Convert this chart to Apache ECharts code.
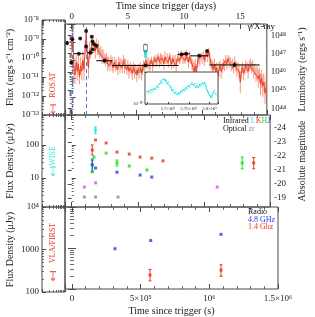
<!DOCTYPE html>
<html><head><meta charset="utf-8">
<script src="https://cdn.jsdelivr.net/npm/echarts@6/dist/echarts.min.js"></script>
<style>html,body{margin:0;padding:0;background:#fff}#c{width:315px;height:317px}</style>
</head><body><div id="c"></div>
<script>
// ---------- DATA ----------
// gamma/X-ray light curve (top panel): time in days, log10 flux, error (dex)
const rxDay = [0.0,0.1,0.2,0.3,0.4,0.5,0.6,0.7,0.8,0.9,1.0,1.1,1.2,1.3,1.4,1.5,1.6,1.7,1.8,1.9,
2.0,2.1,2.2,2.3,2.4,2.5,2.6,2.7,2.8,2.9,3.0,3.1,3.2,3.3,3.4,3.5,3.6,3.7,3.8,3.9,
4.0,4.1,4.2,4.3,4.4,4.5,4.6,4.7,4.8,4.9,5.0,5.1,5.2,5.3,5.4,5.5,5.6,5.7,5.8,5.9,
6.0,6.1,6.2,6.3,6.4,6.5,6.6,6.7,6.8,6.9,7.0,7.1,7.2,7.3,7.4,7.5,7.6,7.7,7.8,7.9,
8.0,8.1,8.2,8.3,8.4,8.5,8.6,8.7,8.8,8.9,9.0,9.1,9.2,9.3,9.4,9.5,9.6,9.7,9.8,9.9,
10.0,10.1,10.2,10.3,10.4,10.5,10.6,10.7,10.8,10.9,11.0,11.1,11.2,11.3,11.4,11.5,11.6,11.7,11.8,11.9,
12.0,12.1,12.2,12.3,12.4,12.5,12.6,12.7,12.8,12.9,13.0,13.1,13.2,13.3,13.4,13.5,13.6,13.7,13.8,13.9,
14.0,14.1,14.2,14.3,14.4,14.5,14.6,14.7,14.8,14.9,15.0,15.1,15.2,15.3,15.4,15.5,15.6,15.7,15.8,15.9,
16.0,16.1,16.2,16.3,16.4,16.5,16.6,16.7,16.8,16.9,17.0,17.1,17.2,17.3];
const rxLog = [-9.2,-8.7,-10.4,-10.8,-10.1,-10.6,-10.2,-10.9,-10.3,-10.6,
-10.0,-10.5,-9.3,-8.5,-9.8,-10.4,-9.4,-9.6,-9.0,-8.9,
-9.2,-9.5,-9.1,-9.4,-9.3,-9.6,-9.5,-9.8,-9.7,-9.9,
-10.0,-9.9,-10.2,-10.1,-10.3,-10.0,-10.2,-10.4,-10.1,-10.3,
-10.2,-10.5,-10.1,-10.3,-10.2,-10.4,-10.0,-10.3,-10.2,-10.5,
-10.3,-10.6,-10.4,-10.5,-10.7,-10.4,-10.6,-10.5,-10.8,-10.5,
-10.6,-10.4,-10.7,-10.5,-10.3,-10.4,-10.0,-10.2,-10.1,-10.3,
-10.2,-10.0,-10.3,-10.1,-9.9,-10.1,-10.0,-9.8,-10.1,-9.9,
-10.0,-9.9,-10.2,-9.8,-10.0,-9.9,-10.1,-9.8,-10.0,-10.2,
-9.9,-10.1,-10.0,-10.3,-9.9,-9.8,-10.0,-9.8,-9.7,-9.9,
-9.8,-10.0,-9.7,-9.9,-10.1,-9.8,-10.0,-10.2,-10.4,-10.6,
-10.3,-10.7,-10.1,-9.9,-10.0,-9.8,-9.9,-9.7,-10.0,-9.8,
-9.6,-9.8,-9.5,-9.9,-10.2,-10.3,-10.5,-10.2,-10.6,-10.4,
-10.9,-10.5,-10.3,-10.6,-10.4,-10.2,-10.3,-10.0,-10.2,-9.9,
-10.1,-10.0,-10.3,-10.2,-10.4,-10.1,-10.3,-10.5,-10.4,-10.6,
-11.2,-10.6,-10.4,-10.7,-10.5,-10.3,-10.4,-10.6,-10.3,-10.2,
-10.4,-10.3,-10.6,-10.5,-10.8,-10.7,-11.0,-10.8,-11.3,-11.0,
-11.4,-11.2,-11.8,-11.5];
const rxErr = [.5,.4,.6,.5,.4,.5,.6,.4,.5,.5, .5,.6,.4,.3,.5,.6,.4,.3,.3,.3,
.3,.4,.3,.3,.4,.3,.3,.4,.3,.3, .3,.3,.4,.3,.3,.3,.4,.3,.3,.3,
.3,.3,.3,.4,.3,.3,.3,.4,.3,.3, .3,.4,.3,.3,.4,.3,.4,.3,.4,.3,
.4,.3,.4,.3,.3,.3,.3,.3,.3,.3, .3,.2,.3,.3,.2,.3,.3,.2,.3,.3,
.3,.2,.3,.3,.2,.3,.3,.2,.3,.3, .2,.3,.3,.4,.2,.3,.2,.3,.2,.3,
.3,.2,.3,.2,.3,.3,.2,.3,.4,.5, .4,.5,.3,.3,.3,.2,.3,.2,.3,.3,
.2,.3,.2,.3,.3,.3,.4,.3,.4,.3, .5,.4,.3,.4,.3,.3,.3,.3,.3,.2,
.3,.2,.3,.3,.3,.3,.3,.4,.3,.4, .6,.4,.3,.4,.3,.3,.3,.4,.3,.3,
.3,.3,.4,.3,.4,.4,.5,.4,.6,.5, .6,.5,.6,.6];
// binned X-ray points (black): day, log flux, day half-width, log error
const bkDay  = [-0.40, 0.06, -0.03, 0.65, 0.76, 1.29, 1.29, 1.66, 1.79, 1.85, 2.00, 1.88, 2.22, 2.92, 6.57, 9.77, 10.19, 11.35, 12.05, 14.49];
const bkLog  = [-9.05, -8.84, -10.11, -9.63, -8.79, -8.38, -9.23, -9.58, -8.70, -8.96, -9.11, -9.40, -9.19, -10.02, -10.28, -9.67, -9.64, -9.75, -9.49, -10.25];
const bkDErr = [0.05, 0.03, 0.03, 0.45, 0.02, 0.02, 0.02, 0.28, 0.02, 0.02, 0.02, 0.02, 0.02, 0.73, 2.95, 0.35, 0.34, 0.82, 0.03, 2.25];
const bkLErr = [0.12, 0.06, 0.12, 0.04, 0.05, 0.10, 0.06, 0.04, 0.05, 0.05, 0.05, 0.05, 0.05, 0.04, 0.04, 0.05, 0.05, 0.04, 0.06, 0.04];
// other gamma-ray points at day 6.6
const cyDay = [6.57, 6.57];
const cyLog = [-9.55, -9.70];
const openDay = [6.57];
const openLog = [-9.32];
// inset (time in 1e5 s, log flux)
const insT = [5.650,5.653,5.656,5.659,5.662,5.665,5.668,5.671,5.674,5.677,5.680,5.683,5.686,5.689,5.692,5.695,5.698,5.701,5.704,5.707,
5.710,5.713,5.716,5.719,5.722,5.725,5.728,5.731,5.734,5.737,5.740,5.743,5.746,5.749,5.752,5.755,5.758,5.761,5.764,5.767,
5.770,5.773,5.776,5.779,5.782,5.785,5.788,5.791,5.794,5.797,5.800,5.803,5.806,5.809,5.812,5.815];
const insLog = [-9.62,-9.66,-9.58,-9.63,-9.55,-9.60,-9.52,-9.55,-9.45,-9.48,-9.38,-9.30,-9.35,-9.22,-9.28,-9.25,-9.36,-9.32,-9.42,-9.48,
-9.58,-9.55,-9.66,-9.62,-9.70,-9.64,-9.68,-9.60,-9.63,-9.56,-9.58,-9.50,-9.53,-9.44,-9.47,-9.38,-9.33,-9.40,-9.36,-9.48,
-9.42,-9.47,-9.40,-9.43,-9.35,-9.40,-9.33,-9.45,-9.58,-9.66,-9.72,-9.80,-9.74,-9.62,-9.57,-9.70];
// infrared / optical (time s, flux μJy, [lo, hi])
const irL = [[1.80e5, 285, 225, 355]];
const irK = [[1.80e5, 142], [1.55e5, 70, 50, 100], [2.60e5, 115], [3.42e5, 61], [4.35e5, 53], [5.17e5, 43], [6.05e5, 40], [6.90e5, 33], [1.376e6, 28.5, 19, 42]];
const irH = [[1.68e5, 43], [1.55e5, 15.5, 15.5, 38], [2.60e5, 57], [3.42e5, 28.5, 23, 35], [4.35e5, 23], [5.68e5, 17.5], [1.289e6, 28.5, 19, 43]];
const irJ = [[1.55e5, 25, 15.5, 35], [1.80e5, 20], [3.42e5, 15], [5.17e5, 12.3], [6.05e5, 10.7]];
const optR = [[0.947e5, 5.3], [1.80e5, 7.1], [1.10e6, 5.3]];
const optZ = [[0.947e5, 2.65], [1.80e5, 2.65], [3.50e5, 2.65]];
// radio
const radio48 = [[3.13e5, 960], [5.73e5, 1520], [1.085e6, 2150]];
const radio14 = [[5.68e5, 218, 158, 301], [1.085e6, 288, 204, 389]];
// archival upper limits (sub-panels)
const ulRosat = [3.4e-13];
const ulWise = [21.5];
const ulVla = [300];
// trigger markers (days)
const trigDays = [0.02, 1.30];
// tick labels
const secLabels = {0: '0', 500000: '5×10⁵', 1000000: '10⁶', 1500000: '1.5×10⁶'};
const insLabels = {'5.7': '5.7×10⁵', '5.75': '5.75×10⁵', '5.8': '5.8×10⁵'};

// ---------- HELPERS ----------
const F = 'Liberation Serif';
const AX = '#4a4a4a';
const SUPS = {'0':'⁰','1':'¹','2':'²','3':'³','4':'⁴','5':'⁵','6':'⁶','7':'⁷','8':'⁸','9':'⁹','-':'⁻'};
const sup = s => String(s).split('').map(c => SUPS[c] || c).join('');
const pow10 = v => '10' + sup(Math.round(Math.log10(v)));
const C = {red:'#e8361c', redLight:'#f06a4a', green:'#22dd22', blue:'#1f3fe6', cyan:'#30e4e4', mag:'#e04ce8', grey:'#8a8a8a', black:'#000', dash:'#5577ee'};

const tick = (len) => ({show:true, inside:true, length:len, lineStyle:{color:AX, width:1}});
const minor = (n, len) => ({show:true, splitNumber:n, length:len, lineStyle:{color:AX, width:0.8}});
const noLab = {show:false};
const lab = (extra) => Object.assign({show:true, fontFamily:F, fontSize:9, color:'#222'}, extra);
function ax(o){ return Object.assign({axisLine:{show:false}, splitLine:{show:false}, axisLabel:noLab, axisTick:tick(4)}, o); }

const SUBL = 42, SUBW = 23, MAINL = 65, MAINW = 213;
const grids = [
  {left:SUBL, top:20, width:SUBW, height:95},
  {left:MAINL, top:20, width:MAINW, height:95},
  {left:SUBL, top:115, width:SUBW, height:92},
  {left:MAINL, top:115, width:MAINW, height:92},
  {left:SUBL, top:207, width:SUBW, height:85},
  {left:MAINL, top:207, width:MAINW, height:85},
  {left:145, top:72, width:73, height:32, z:10, backgroundColor:'#fff'}
].map(g => Object.assign({show:true, borderColor:AX, borderWidth:1, backgroundColor:'transparent'}, g));

const secMin = -5.1e4, secMax = 1.5e6;
const dayMin = secMin / 86400, dayMax = secMax / 86400;

const xAxes = [
  ax({gridIndex:0, type:'log', min:1, max:10, position:'bottom', axisTick:tick(3), minorTick:minor(9,2)}),   //0
  ax({gridIndex:1, type:'value', min:dayMin, max:dayMax, splitNumber:3, position:'top', axisTick:tick(5), minorTick:minor(5,3),
      axisLabel:lab({showMinLabel:false, showMaxLabel:false, margin:3}),
      name:'Time since trigger (days)', nameLocation:'middle', nameGap:13, nameTextStyle:{fontFamily:F, fontSize:10, color:'#222'}}), //1
  ax({gridIndex:1, type:'value', min:secMin, max:secMax, splitNumber:3, position:'bottom', axisTick:tick(5), minorTick:minor(5,3)}), //2
  ax({gridIndex:2, type:'log', min:1, max:10, position:'bottom', axisTick:tick(3), minorTick:minor(9,2)}), //3
  ax({gridIndex:3, type:'value', min:secMin, max:secMax, splitNumber:3, position:'bottom', axisTick:tick(5), minorTick:minor(5,3)}), //4
  ax({gridIndex:3, type:'value', min:secMin, max:secMax, splitNumber:3, position:'top', axisTick:tick(5), minorTick:minor(5,3)}), //5
  ax({gridIndex:4, type:'log', min:1, max:10, position:'bottom', axisTick:tick(3), minorTick:minor(9,2)}), //6
  ax({gridIndex:5, type:'value', min:secMin, max:secMax, splitNumber:3, position:'bottom', axisTick:tick(5), minorTick:minor(5,3),
      axisLabel:lab({showMinLabel:false, margin:5, formatter:v => secLabels[v] !== undefined ? secLabels[v] : ''}),
      name:'Time since trigger (s)', nameLocation:'middle', nameGap:17, nameTextStyle:{fontFamily:F, fontSize:10, color:'#222'}}), //7
  ax({gridIndex:5, type:'value', min:secMin, max:secMax, splitNumber:3, position:'top', axisTick:tick(5), minorTick:minor(5,3)}), //8
  ax({gridIndex:6, type:'value', min:5.645, max:5.82, splitNumber:3, position:'bottom', z:11, axisTick:tick(2),
      axisLabel:lab({fontSize:4.5, margin:2, showMinLabel:false, formatter:v => insLabels[String(+v.toFixed(2))] || ''})}), //9
  ax({gridIndex:0, type:'log', min:1, max:10, position:'top', axisTick:tick(3), minorTick:minor(9,2)}), //10
  ax({gridIndex:2, type:'log', min:1, max:10, position:'top', axisTick:tick(3), minorTick:minor(9,2)}), //11
  ax({gridIndex:4, type:'log', min:1, max:10, position:'top', axisTick:tick(3), minorTick:minor(9,2)})  //12
];

const fluxMin = 1e-13, fluxMax = 1e-8;
const lumMin = Math.pow(10, 43.63), lumMax = Math.pow(10, 48.63);
const fdMin = Math.pow(10, 0.121), fdMax = Math.pow(10, 2.909);
const yName = (t, gap) => ({name:t, nameLocation:'middle', nameGap:gap, nameRotate:90, nameTextStyle:{fontFamily:F, fontSize:10, color:'#222'}});

const yAxes = [
  ax(Object.assign({gridIndex:0, type:'log', min:fluxMin, max:fluxMax, position:'left', axisTick:tick(4), minorTick:minor(9,2),
      axisLabel:lab({formatter:pow10, margin:3})}, yName('Flux (ergs s⁻¹ cm⁻²)', 27))), //0
  ax({gridIndex:1, type:'log', min:fluxMin, max:fluxMax, position:'left', axisTick:tick(4), minorTick:minor(9,2)}), //1
  ax(Object.assign({gridIndex:1, type:'log', min:lumMin, max:lumMax, position:'right', axisTick:tick(4), minorTick:minor(9,2),
      axisLabel:lab({formatter:pow10, margin:4, showMinLabel:false, showMaxLabel:false})}, yName('Luminosity (ergs s⁻¹)', 24))), //2
  ax(Object.assign({gridIndex:2, type:'log', min:fdMin, max:fdMax, position:'left', axisTick:tick(4), minorTick:minor(9,2),
      axisLabel:lab({margin:3, showMinLabel:false, showMaxLabel:false, formatter:v => String(Math.round(v))})}, yName('Flux Density (μJy)', 27))), //3
  ax({gridIndex:3, type:'log', min:fdMin, max:fdMax, position:'left', axisTick:tick(4), minorTick:minor(9,2)}), //4
  ax(Object.assign({gridIndex:3, type:'value', inverse:true, min:-24.93, max:-18.36, splitNumber:6, position:'right', axisTick:tick(4),
      axisLabel:lab({margin:4, showMinLabel:false, showMaxLabel:false})}, yName('Absolute magnitude', 22))), //5
  ax(Object.assign({gridIndex:4, type:'log', min:100, max:1e4, position:'left', axisTick:tick(4), minorTick:minor(9,2),
      axisLabel:lab({margin:3, formatter:v => v >= 1e4 ? pow10(v) : String(Math.round(v))})}, yName('Flux Density (μJy)', 27))), //6
  ax({gridIndex:5, type:'log', min:100, max:1e4, position:'left', axisTick:tick(4), minorTick:minor(9,2)}), //7
  ax({gridIndex:5, type:'log', min:100, max:1e4, position:'right', axisTick:tick(4), minorTick:minor(9,2)}), //8
  ax({gridIndex:6, type:'log', min:1e-10, max:1e-9, position:'left', z:11, axisTick:tick(2),
      axisLabel:lab({fontSize:4.5, margin:2, showMaxLabel:false, formatter:pow10})}) //9
];

// error-bar renderer: value = [x, y, xlo, xhi, ylo, yhi]
function errBars(color, w, capW) {
  return function(params, api) {
    const x = api.value(0), y = api.value(1);
    const xl = api.value(2), xh = api.value(3), yl = api.value(4), yh = api.value(5);
    const ch = [];
    const st = {stroke:color, lineWidth:w};
    if (yl !== yh) {
      const a = api.coord([x, yl]), b = api.coord([x, yh]);
      ch.push({type:'line', shape:{x1:a[0], y1:a[1], x2:b[0], y2:b[1]}, style:st});
      if (capW) {
        ch.push({type:'line', shape:{x1:a[0]-capW, y1:a[1], x2:a[0]+capW, y2:a[1]}, style:st});
        ch.push({type:'line', shape:{x1:b[0]-capW, y1:b[1], x2:b[0]+capW, y2:b[1]}, style:st});
      }
    }
    if (xl !== xh) {
      const a = api.coord([xl, y]), b = api.coord([xh, y]);
      ch.push({type:'line', shape:{x1:a[0], y1:a[1], x2:b[0], y2:b[1]}, style:st});
    }
    return {type:'group', children:ch};
  };
}
const errSeries = (name, xi, yi, data, color, w, cap, z) => ({
  type:'custom', name, xAxisIndex:xi, yAxisIndex:yi, clip:true, z:z||2, silent:true,
  renderItem: errBars(color, w, cap), data, encode:{x:0, y:1}
});
const dots = (name, xi, yi, data, color, size, symbol, z) => ({
  type:'scatter', name, xAxisIndex:xi, yAxisIndex:yi, data, symbol:symbol||'rect', symbolSize:size, z:z||3, silent:true,
  itemStyle:{color}
});
const band = (arr) => arr.map(r => [r[0], r[1], r[0], r[0], r.length > 2 ? r[2] : r[1], r.length > 2 ? r[3] : r[1]]);

// top-panel derived data
const rxPts = rxDay.map((d, i) => [d, Math.pow(10, rxLog[i])]);
const rxErrs = rxDay.map((d, i) => [d, Math.pow(10, rxLog[i]), d, d, Math.pow(10, rxLog[i] - rxErr[i]), Math.pow(10, rxLog[i] + rxErr[i])]);
const bkErrs = bkDay.map((d, i) => [d, Math.pow(10, bkLog[i]), d - bkDErr[i], d + bkDErr[i], Math.pow(10, bkLog[i] - bkLErr[i]), Math.pow(10, bkLog[i] + bkLErr[i])]);
const bkPts = bkDay.map((d, i) => [d, Math.pow(10, bkLog[i])]);
const cyPts = cyDay.map((d, i) => [d, Math.pow(10, cyLog[i])]);
const openPts = openDay.map((d, i) => [d, Math.pow(10, openLog[i])]);
const insPts = insT.map((t, i) => [t, Math.pow(10, insLog[i])]);

const ulPath = 'path://M0,0 L10,0 M5,0 L5,20 M1.5,14 L5,20 L8.5,14';
const ulSeries = (xi, yi, val, color) => ({
  type:'scatter', xAxisIndex:xi, yAxisIndex:yi, data:val.map(v => [3, v]), symbol:ulPath, symbolSize:[6, 9],
  symbolOffset:[0, '50%'], silent:true, z:4, itemStyle:{color:'none', borderColor:color, borderWidth:1}
});

const series = [
  errSeries('rxErr', 1, 1, rxErrs, C.redLight, 0.7, 0, 2),
  {type:'line', name:'rx', xAxisIndex:1, yAxisIndex:1, data:rxPts, showSymbol:false, symbol:'none', silent:true, z:2,
   lineStyle:{color:C.red, width:0.9},
   markLine:{symbol:'none', silent:true, label:{show:false}, lineStyle:{color:C.dash, type:[4,3], width:1},
     data:trigDays.map(d => ({xAxis:d}))}},
  errSeries('bkErr', 1, 1, bkErrs, C.black, 1, 0, 4),
  dots('bk', 1, 1, bkPts, C.black, 4, 'circle', 5),
  dots('cy', 1, 1, cyPts, C.cyan, [3, 6], 'rect', 5),
  {type:'scatter', xAxisIndex:1, yAxisIndex:1, data:openPts, symbol:'roundRect', symbolSize:[4, 7], silent:true, z:5,
   itemStyle:{color:'rgba(255,255,255,0)', borderColor:'#555', borderWidth:1}},
  // inset
  {type:'line', xAxisIndex:9, yAxisIndex:9, data:insPts, symbol:'circle', symbolSize:1.5, showSymbol:true, silent:true, z:12,
   lineStyle:{color:C.cyan, width:1}, itemStyle:{color:C.cyan}},
  // middle panel
  errSeries('Lerr', 4, 4, band(irL), C.cyan, 1, 1.5),
  errSeries('Kerr', 4, 4, band(irK), C.red, 1, 1.5),
  errSeries('Herr', 4, 4, band(irH), C.green, 1, 1.5),
  errSeries('Jerr', 4, 4, band(irJ), C.blue, 1, 1.5),
  dots('L', 4, 4, irL.map(r => [r[0], r[1]]), C.cyan, 3),
  dots('K', 4, 4, irK.map(r => [r[0], r[1]]), C.red, 3),
  dots('H', 4, 4, irH.map(r => [r[0], r[1]]), C.green, 3),
  dots('J', 4, 4, irJ.map(r => [r[0], r[1]]), C.blue, 3),
  dots('r', 4, 4, optR, C.mag, 3),
  dots('z', 4, 4, optZ, C.grey, 3),
  // bottom panel
  errSeries('r14err', 7, 7, band(radio14), C.red, 1, 1.5),
  dots('r48', 7, 7, radio48, C.blue, 3),
  dots('r14', 7, 7, radio14.map(r => [r[0], r[1]]), C.red, 3),
  // archival upper limits
  ulSeries(0, 0, ulRosat, C.red),
  ulSeries(3, 3, ulWise, C.cyan),
  ulSeries(6, 6, ulVla, C.red)
];

const txt = (x, y, text, fill, size, align, rot) => ({type:'text', x, y, rotation:rot||0, silent:true, z:20,
  style:{text, fill, fontFamily:F, fontSize:size||9, align:align||'left', verticalAlign:'middle'}});
const graphic = [
  txt(275, 27, 'γ/X-ray', '#111', 9, 'right'),
  txt(53, 85, 'ROSAT', C.red, 8, 'center', Math.PI/2),
  txt(53, 156, 'WISE', C.cyan, 8, 'center', Math.PI/2),
  txt(53, 243, 'VLA/FIRST', C.red, 8, 'center', Math.PI/2),
  {type:'text', x:223, y:121, silent:true, z:20, style:{text:'{a|Infrared }{l|L}{k|K}{h|H}{j|J}', fontFamily:F, fontSize:8, verticalAlign:'middle',
    rich:{a:{fill:'#111', fontFamily:F, fontSize:8}, l:{fill:C.cyan, fontFamily:F, fontSize:8}, k:{fill:C.red, fontFamily:F, fontSize:8}, h:{fill:C.green, fontFamily:F, fontSize:8}, j:{fill:C.blue, fontFamily:F, fontSize:8}}}},
  {type:'text', x:223, y:129, silent:true, z:20, style:{text:'{a|Optical }{z|z}{r|r}', fontFamily:F, fontSize:8, verticalAlign:'middle',
    rich:{a:{fill:'#111', fontFamily:F, fontSize:8}, z:{fill:'#b07ac0', fontFamily:F, fontSize:8}, r:{fill:C.mag, fontFamily:F, fontSize:8}}}},
  txt(248, 212, 'Radio', '#111', 8),
  txt(248, 219.5, '4.8 GHz', C.blue, 8),
  txt(248, 227, '1.4 Ghz', C.red, 8)
];

const chart = echarts.init(document.getElementById('c'), null, {renderer:'canvas'});
chart.setOption({animation:false, backgroundColor:'#fff', grid:grids, xAxis:xAxes, yAxis:yAxes, series, graphic});
</script></body></html>
